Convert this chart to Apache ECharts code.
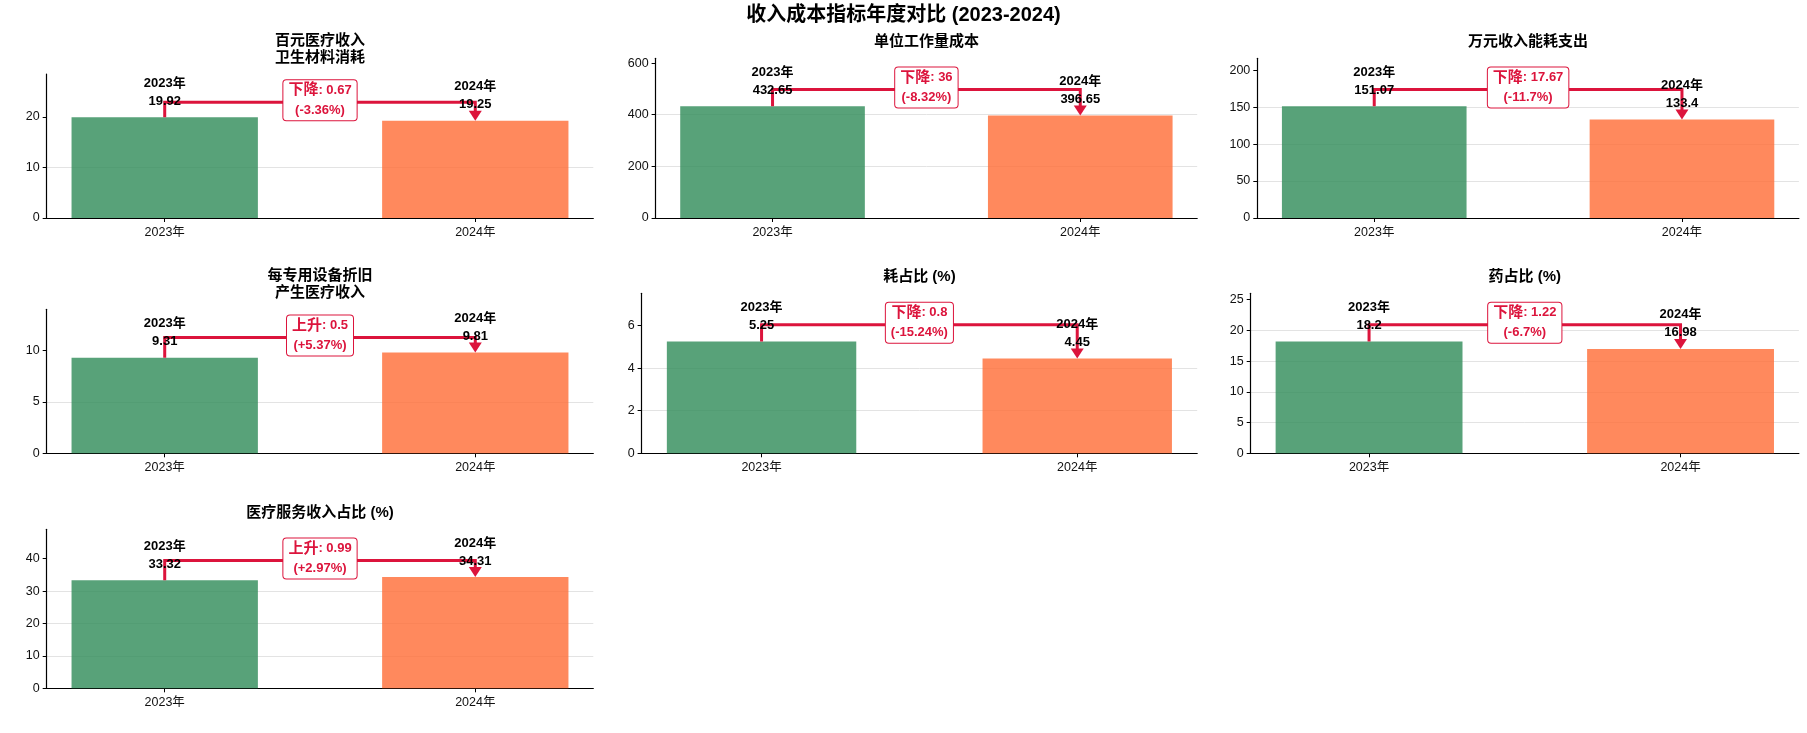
<!DOCTYPE html>
<html>
<head>
<meta charset="utf-8">
<title>收入成本指标年度对比</title>
<script src="https://cdn.jsdelivr.net/npm/echarts@6/dist/echarts.min.js"></script>
<style>
  html, body { margin: 0; padding: 0; background: #fff; }
  #chart { width: 1807px; height: 733px; }
</style>
</head>
<body>
<div id="chart"></div>
<script>
// data
var titles = ['百元医疗收入\n卫生材料消耗', '单位工作量成本', '万元收入能耗支出',
              '每专用设备折旧\n产生医疗收入', '耗占比 (%)', '药占比 (%)', '医疗服务收入占比 (%)'];
var years = ['2023年', '2024年'];
var values2023 = [19.92, 432.65, 151.07, 9.31, 5.25, 18.2, 33.32];
var values2024 = [19.25, 396.65, 133.4, 9.81, 4.45, 16.98, 34.31];
var yTickSteps = [10, 200, 50, 5, 2, 5, 10];

// layout: [left, top, width, height] of each plot area
var boxes = [
    [46.7, 74, 546.6, 144],
    [655.6, 58.3, 541.6, 159.7],
    [1257.3, 58.3, 541.6, 159.7],
    [46.7, 309.3, 546.6, 144],
    [641.6, 293.3, 555.6, 160],
    [1250.7, 293.3, 548.2, 160],
    [46.7, 529.3, 546.6, 159]
];

var FONT = "'Liberation Sans', 'Noto Sans CJK SC', sans-serif";
var RED = '#DC143C';
var barColors = ['rgba(46,139,87,0.8)', 'rgba(255,107,53,0.8)'];

function fmt(x) {
    return String(+x.toFixed(2));
}

function renderBar(params, api) {
    var x = api.value(0), v = api.value(1);
    var a = api.coord([x - 0.3, v]);
    var b = api.coord([x + 0.3, 0]);
    return {
        type: 'rect',
        shape: { x: a[0], y: a[1], width: b[0] - a[0], height: b[1] - a[1] },
        style: { fill: barColors[x] }
    };
}

function renderValueLabel(params, api) {
    var x = api.value(0), v = api.value(1);
    var p = api.coord([x, v]);
    return {
        type: 'text',
        x: p[0],
        y: p[1] - 7,
        style: {
            text: years[x] + '\n' + v,
            align: 'center',
            verticalAlign: 'bottom',
            fontSize: 13,
            fontWeight: 'bold',
            fontFamily: FONT,
            lineHeight: 18,
            fill: '#000'
        }
    };
}

// bracket from the 2023 bar over to the 2024 bar, arrow down
function renderChange(params, api) {
    var a = api.value(0), b = api.value(1);
    var lvl = Math.max(a, b) * 1.15;
    var p0 = api.coord([0, a]), p1 = api.coord([0, lvl]);
    var p2 = api.coord([1, lvl]), p3 = api.coord([1, b]);
    var head = 10, hw = 6.5;
    return {
        type: 'group',
        children: [
            {
                type: 'polyline',
                shape: { points: [p0, p1, p2, [p3[0], p3[1] - head + 1]] },
                style: { stroke: RED, lineWidth: 3, fill: null, lineJoin: 'miter' }
            },
            {
                type: 'polygon',
                shape: { points: [[p3[0] - hw, p3[1] - head], [p3[0] + hw, p3[1] - head], [p3[0], p3[1]]] },
                style: { fill: RED }
            }
        ]
    };
}

function renderBox(params, api) {
    var a = api.value(0), b = api.value(1);
    var lvl = Math.max(a, b) * 1.15;
    var p = api.coord([0.5, lvl]);
    var d = b - a;
    var pct = d / a * 100;
    var word = d < 0 ? '下降' : '上升';
    var sign = d < 0 ? '-' : '+';
    return {
        type: 'text',
        x: p[0],
        y: p[1] - 2,
        style: {
            text: '{c|' + word + '}{n|: ' + fmt(Math.abs(d)) + '}\n{n|(' + sign + fmt(Math.abs(pct)) + '%)}',
            align: 'center',
            verticalAlign: 'middle',
            backgroundColor: '#fff',
            borderColor: RED,
            borderWidth: 1,
            borderRadius: 3,
            padding: [0, 5],
            rich: {
                c: { fontSize: 15, fontWeight: 'bold', fontFamily: FONT, fill: RED, lineHeight: 20, align: 'center' },
                n: { fontSize: 13, fontWeight: 'bold', fontFamily: FONT, fill: RED, lineHeight: 20, align: 'center' }
            }
        }
    };
}

var grids = [], xAxes = [], yAxes = [], series = [], graphics = [];

graphics.push({
    type: 'text',
    x: 903.5,
    y: 15,
    style: {
        text: '收入成本指标年度对比 (2023-2024)',
        align: 'center',
        verticalAlign: 'middle',
        fontSize: 20,
        fontWeight: 'bold',
        fontFamily: FONT,
        fill: '#000'
    }
});

for (var i = 0; i < titles.length; i++) {
    var bx = boxes[i];
    var v1 = values2023[i], v2 = values2024[i];
    var yMax = Math.max(v1, v2) * 1.43;
    var ticks = [];
    for (var t = 0; t <= yMax; t += yTickSteps[i]) ticks.push(t);

    grids.push({ left: bx[0], top: bx[1], width: bx[2], height: bx[3] });

    xAxes.push({
        type: 'value',
        gridIndex: i,
        min: -0.38,
        max: 1.38,
        axisLine: { show: true, onZero: false, lineStyle: { color: '#000', width: 1.2 } },
        axisTick: { show: true, customValues: [0, 1], length: 4, lineStyle: { color: '#000' } },
        axisLabel: {
            customValues: [0, 1],
            formatter: function (v) { return years[Math.round(v)]; },
            margin: 8,
            fontSize: 12.5,
            color: '#111',
            fontFamily: FONT
        },
        splitLine: { show: false }
    });

    yAxes.push({
        type: 'value',
        gridIndex: i,
        min: 0,
        max: yMax,
        interval: yTickSteps[i],
        axisLine: { show: true, onZero: false, lineStyle: { color: '#000', width: 1.2 } },
        axisTick: { show: true, customValues: ticks, length: 4, lineStyle: { color: '#000' } },
        axisLabel: {
            showMaxLabel: false,
            margin: 7,
            fontSize: 12.5,
            color: '#111',
            fontFamily: FONT
        },
        splitLine: { show: true, showMaxLine: false, lineStyle: { color: '#e3e3e3', width: 1 } }
    });

    series.push({
        type: 'custom', xAxisIndex: i, yAxisIndex: i, z: 2, silent: true,
        renderItem: renderBar,
        data: [[0, v1], [1, v2]]
    });
    series.push({
        type: 'custom', xAxisIndex: i, yAxisIndex: i, z: 3, silent: true,
        renderItem: renderChange,
        data: [[v1, v2]]
    });
    series.push({
        type: 'custom', xAxisIndex: i, yAxisIndex: i, z: 4, silent: true,
        renderItem: renderValueLabel,
        data: [[0, v1], [1, v2]]
    });
    series.push({
        type: 'custom', xAxisIndex: i, yAxisIndex: i, z: 5, silent: true,
        renderItem: renderBox,
        data: [[v1, v2]]
    });

    graphics.push({
        type: 'text',
        x: bx[0] + bx[2] / 2,
        y: bx[1] - 8,
        style: {
            text: titles[i],
            align: 'center',
            verticalAlign: 'bottom',
            fontSize: 15,
            fontWeight: 'bold',
            fontFamily: FONT,
            lineHeight: 17,
            fill: '#000'
        }
    });
}

var chart = echarts.init(document.getElementById('chart'));
chart.setOption({
    backgroundColor: '#fff',
    animation: false,
    grid: grids,
    xAxis: xAxes,
    yAxis: yAxes,
    series: series,
    graphic: graphics
});
</script>
</body>
</html>
